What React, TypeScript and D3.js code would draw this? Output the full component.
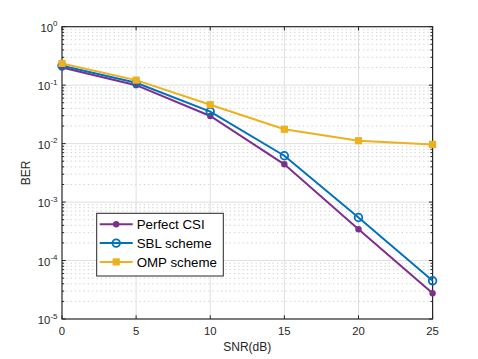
import React from 'react';
import * as d3 from 'd3';

const snr = [0, 5, 10, 15, 20, 25];
const perfectCsi = [0.2, 0.1, 0.0297, 0.00443, 0.000343, 0.0000275];
const sblScheme = [0.215, 0.11, 0.0352, 0.0062, 0.000545, 0.000045];
const ompScheme = [0.235, 0.122, 0.0463, 0.0176, 0.0112, 0.0097];
const xTicks = [0, 5, 10, 15, 20, 25];
const yExponents = [0, -1, -2, -3, -4, -5];

const series = [
  { name: 'Perfect CSI', values: perfectCsi, color: '#7E2F8E', marker: 'dot' },
  { name: 'SBL scheme', values: sblScheme, color: '#0072BD', marker: 'circle' },
  { name: 'OMP scheme', values: ompScheme, color: '#EDB120', marker: 'square' },
];

const W = 478;
const H = 359;
const margin = { left: 62, right: 45.4, top: 26.7, bottom: 40 };
const font = '"Liberation Sans", Arial, Helvetica, sans-serif';
const axisColor = '#262626';

function Marker({ kind, x, y, color }: { kind: string; x: number; y: number; color: string }) {
  if (kind === 'dot') return <circle cx={x} cy={y} r={3.2} fill={color} />;
  if (kind === 'circle')
    return <circle cx={x} cy={y} r={3.8} fill="none" stroke={color} strokeWidth={1.8} />;
  return <rect x={x - 3.6} y={y - 3.6} width={7.2} height={7.2} fill={color} />;
}

export default function App() {
  const x = d3.scaleLinear().domain([0, 25]).range([margin.left, W - margin.right]);
  const y = d3.scaleLog().domain([1e-5, 1]).range([H - margin.bottom, margin.top]);
  const [x0, x1] = x.range();
  const [y0, y1] = y.range();

  const minor: number[] = [];
  for (let e = -5; e < 0; e++) {
    for (let m = 2; m <= 9; m++) minor.push(m * Math.pow(10, e));
  }

  const line = d3
    .line<number>()
    .x((_, i) => x(snr[i]))
    .y((d) => y(d));

  const legend = { x: 96.7, y: 213.3, w: 126.6, h: 62.7 };
  const rowH = 18.8;

  return (
    <svg width={W} height={H} style={{ position: 'absolute', left: 0, top: 0, background: '#fff' }}>
      {/* grid */}
      {minor.map((v) => (
        <line key={'mg' + v} x1={x0} x2={x1} y1={y(v)} y2={y(v)}
          stroke="#cfcfcf" strokeWidth={1} strokeDasharray="1.3,3" />
      ))}
      {yExponents.slice(1, -1).map((e) => (
        <line key={'yg' + e} x1={x0} x2={x1} y1={y(Math.pow(10, e))} y2={y(Math.pow(10, e))}
          stroke="#dfdfdf" strokeWidth={1} />
      ))}
      {xTicks.slice(1, -1).map((t) => (
        <line key={'xg' + t} x1={x(t)} x2={x(t)} y1={y0} y2={y1} stroke="#dfdfdf" strokeWidth={1} />
      ))}

      {/* ticks */}
      {xTicks.map((t) => (
        <g key={'xt' + t}>
          <line x1={x(t)} x2={x(t)} y1={y0} y2={y0 - 3.7} stroke={axisColor} />
          <line x1={x(t)} x2={x(t)} y1={y1} y2={y1 + 3.7} stroke={axisColor} />
          <text x={x(t)} y={y0 + 16} textAnchor="middle" fontFamily={font} fontSize={11.3} fill={axisColor}>
            {t}
          </text>
        </g>
      ))}
      {minor.map((v) => (
        <g key={'mt' + v}>
          <line x1={x0} x2={x0 + 2.2} y1={y(v)} y2={y(v)} stroke={axisColor} />
          <line x1={x1} x2={x1 - 2.2} y1={y(v)} y2={y(v)} stroke={axisColor} />
        </g>
      ))}
      {yExponents.map((e) => {
        const yy = y(Math.pow(10, e));
        return (
          <g key={'yt' + e}>
            <line x1={x0} x2={x0 + 3.7} y1={yy} y2={yy} stroke={axisColor} />
            <line x1={x1} x2={x1 - 3.7} y1={yy} y2={yy} stroke={axisColor} />
            <text x={x0 - 4.5} y={yy + 5} textAnchor="end" fontFamily={font} fontSize={11.3} fill={axisColor}>
              10
              <tspan dy={-5.5} fontSize={8}>{e}</tspan>
            </text>
          </g>
        );
      })}

      {/* box */}
      <rect x={x0} y={y1} width={x1 - x0} height={y0 - y1} fill="none" stroke={axisColor} strokeWidth={1.2} />

      {/* series */}
      {series.map((s) => (
        <g key={s.name}>
          <path d={line(s.values) || ''} fill="none" stroke={s.color} strokeWidth={2} />
          {s.values.map((v, i) => (
            <Marker key={i} kind={s.marker} x={x(snr[i])} y={y(v)} color={s.color} />
          ))}
        </g>
      ))}

      {/* axis labels */}
      <text x={(x0 + x1) / 2} y={351} textAnchor="middle" fontFamily={font} fontSize={12} fill={axisColor}>
        SNR(dB)
      </text>
      <text transform={`translate(29.5,${(y0 + y1) / 2}) rotate(-90)`} textAnchor="middle"
        fontFamily={font} fontSize={12} fill={axisColor}>
        BER
      </text>

      {/* legend */}
      <rect x={legend.x} y={legend.y} width={legend.w} height={legend.h} fill="#fff" stroke={axisColor} strokeWidth={1} />
      {series.map((s, i) => {
        const cy = legend.y + 11 + i * rowH;
        return (
          <g key={'lg' + s.name}>
            <line x1={legend.x + 3} x2={legend.x + 36} y1={cy} y2={cy} stroke={s.color} strokeWidth={2} />
            <Marker kind={s.marker} x={legend.x + 19.5} y={cy} color={s.color} />
            <text x={legend.x + 40} y={cy + 4.8} fontFamily={font} fontSize={13.3} fill="#000">
              {s.name}
            </text>
          </g>
        );
      })}
    </svg>
  );
}
